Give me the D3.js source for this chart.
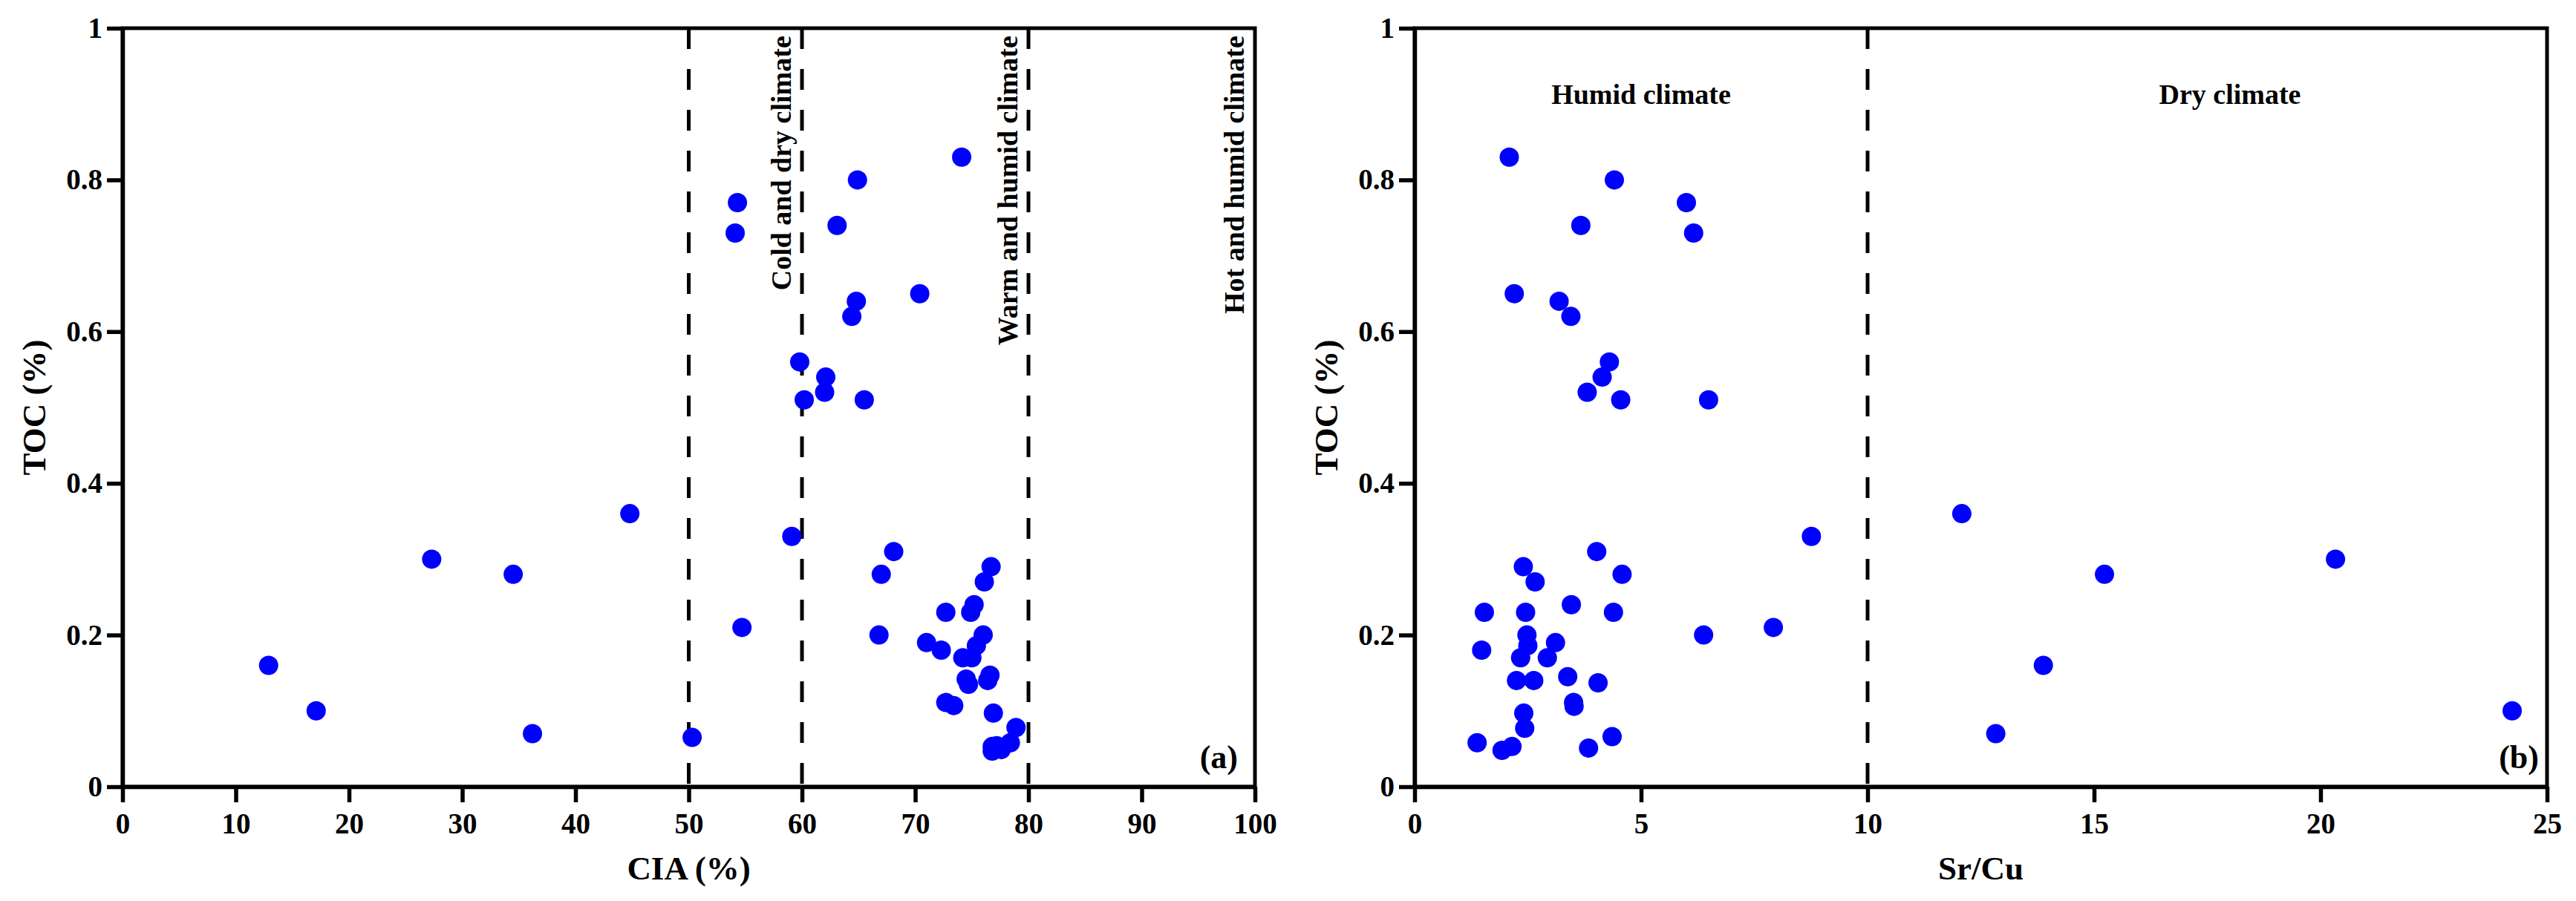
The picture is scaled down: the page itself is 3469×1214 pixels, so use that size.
<!DOCTYPE html>
<html>
<head>
<meta charset="utf-8">
<script src="https://cdn.jsdelivr.net/npm/d3@7"></script>
<style>
    body { margin: 0; background: #fff; }
    svg { display: block; }
    text { font-family: "Liberation Serif", "Times New Roman", serif; font-weight: bold; fill: #000; }
</style>
</head>
<body>
<div id="chart"></div>
<script>
// Panel (a): CIA vs TOC
const ciaX = [12.9, 17.1, 27.3, 34.5, 36.2, 44.8,
    74.1, 64.9, 54.3, 63.1, 54.1, 70.4, 64.8, 64.4, 59.8, 62.1, 62.0, 60.2, 65.5,
    59.1, 54.7, 50.3,
    68.1, 67.0, 76.7, 76.1, 72.7, 75.2, 74.9, 66.8, 76.0, 75.4, 71.0, 72.3, 74.2, 75.0,
    74.5, 74.7, 76.6, 76.4, 72.7, 73.4, 76.9, 78.9, 78.4, 77.2, 76.8, 76.8, 77.6];
const ciaToc = [0.16, 0.10, 0.30, 0.28, 0.07, 0.36,
    0.83, 0.80, 0.77, 0.74, 0.73, 0.65, 0.64, 0.62, 0.56, 0.54, 0.52, 0.51, 0.51,
    0.33, 0.21, 0.065,
    0.31, 0.28, 0.29, 0.27, 0.23, 0.24, 0.23, 0.20, 0.20, 0.186, 0.19, 0.18, 0.17, 0.17,
    0.142, 0.135, 0.147, 0.14, 0.111, 0.107, 0.097, 0.078, 0.058, 0.054, 0.053, 0.047, 0.049];

// Panel (b): Sr/Cu vs TOC
const srcuX = [2.09, 4.41, 6.0, 3.67, 6.16, 2.2, 3.19, 3.45, 4.30, 4.14, 3.81, 4.55, 6.49,
    8.76, 7.92, 6.38,
    12.08, 20.33, 15.23, 13.88, 12.83, 24.23,
    4.02, 2.40, 2.66, 4.58, 1.54, 2.45, 3.46, 4.39, 2.48, 2.50, 2.34, 3.11, 2.93, 1.48,
    2.25, 2.63, 3.38, 4.05, 3.51, 3.52, 2.41, 2.43, 1.38, 2.15, 1.93, 4.36, 3.84];
const srcuToc = [0.83, 0.80, 0.77, 0.74, 0.73, 0.65, 0.64, 0.62, 0.56, 0.54, 0.52, 0.51, 0.51,
    0.33, 0.21, 0.20,
    0.36, 0.30, 0.28, 0.16, 0.07, 0.10,
    0.31, 0.29, 0.27, 0.28, 0.23, 0.23, 0.24, 0.23, 0.20, 0.186, 0.17, 0.19, 0.17, 0.18,
    0.14, 0.14, 0.145, 0.137, 0.111, 0.106, 0.097, 0.077, 0.058, 0.053, 0.048, 0.066, 0.051];

// Ticks and labels
const ciaTicks = [0, 10, 20, 30, 40, 50, 60, 70, 80, 90, 100];
const srcuTicks = [0, 5, 10, 15, 20, 25];
const tocTicks = [0, 0.2, 0.4, 0.6, 0.8, 1];
const tocTickLabels = ["0", "0.2", "0.4", "0.6", "0.8", "1"];

// Climate boundaries and zone names
const ciaBounds = [50, 60, 80];
const ciaZones = ["Cold and dry climate", "Warm and humid climate", "Hot and humid climate"];
const ciaZoneAt = [59, 79, 99];
const srcuBounds = [10];
const srcuZones = ["Humid climate", "Dry climate"];
const srcuZoneAt = [5, 18];

const width = 3469, height = 1214;
const plotTop = 38, plotBottom = 1060, plotW = 1525;

const svg = d3.select("#chart")
    .append("svg")
    .attr("width", width)
    .attr("height", height);

function drawPanel(o) {
    const g = svg.append("g");
    const x = d3.scaleLinear().domain(o.xDomain).range([o.left, o.left + plotW]);
    const y = d3.scaleLinear().domain([0, 1]).range([plotBottom, plotTop]);

    // frame
    g.append("rect")
        .attr("x", o.left).attr("y", plotTop)
        .attr("width", plotW).attr("height", plotBottom - plotTop)
        .attr("fill", "none").attr("stroke", "#000").attr("stroke-width", 5);

    // dashed boundaries
    g.selectAll(".bound")
        .data(o.bounds)
        .enter().append("line")
        .attr("x1", d => x(d)).attr("x2", d => x(d))
        .attr("y1", y(1)).attr("y2", y(0))
        .attr("stroke", "#000").attr("stroke-width", 5)
        .attr("stroke-dasharray", "28,27");

    // x axis
    const xa = g.append("g")
        .attr("transform", "translate(0," + y(0) + ")")
        .call(d3.axisBottom(x).tickValues(o.xTicks).tickSize(21).tickSizeOuter(0).tickPadding(14));

    // y axis
    const ya = g.append("g")
        .attr("transform", "translate(" + o.left + ",0)")
        .call(d3.axisLeft(y).tickValues(tocTicks).tickFormat((d, i) => tocTickLabels[i])
            .tickSize(21).tickSizeOuter(0).tickPadding(6));

    [xa, ya].forEach(a => {
        a.select(".domain").attr("stroke", "#000").attr("stroke-width", 5.5);
        a.selectAll(".tick line").attr("stroke", "#000").attr("stroke-width", 5.5);
        a.selectAll(".tick text")
            .attr("font-size", 39)
            .attr("font-family", "Liberation Serif, Times New Roman, serif")
            .attr("font-weight", "bold")
            .attr("fill", "#000");
    });

    // points
    g.selectAll(".pt")
        .data(o.xs.map((v, i) => [v, o.ys[i]]))
        .enter().append("circle")
        .attr("cx", d => x(d[0]))
        .attr("cy", d => y(d[1]))
        .attr("r", 13)
        .attr("fill", "#0000ff");

    // axis titles
    g.append("text")
        .attr("x", x((o.xDomain[0] + o.xDomain[1]) / 2))
        .attr("y", 1185)
        .attr("text-anchor", "middle")
        .attr("font-size", 45)
        .text(o.xTitle);

    g.append("text")
        .attr("transform", "translate(" + (o.left - 104) + "," + ((plotTop + plotBottom) / 2) + ") rotate(-90)")
        .attr("text-anchor", "middle")
        .attr("font-size", 45)
        .text("TOC (%)");

    // panel letter
    g.append("text")
        .attr("x", o.left + plotW - o.letterPad)
        .attr("y", 1035)
        .attr("text-anchor", "end")
        .attr("font-size", 44)
        .text(o.letter);

    return { g: g, x: x, y: y };
}

const a = drawPanel({
    left: 165, xDomain: [0, 100], xTicks: ciaTicks, bounds: ciaBounds,
    xs: ciaX, ys: ciaToc, xTitle: "CIA (%)", letter: "(a)", letterPad: 23
});

// vertical zone labels
a.g.selectAll(".zone")
    .data(ciaZones)
    .enter().append("text")
    .attr("transform", (d, i) => "translate(" + a.x(ciaZoneAt[i]) + "," + a.y(0.99) + ") rotate(-90)")
    .attr("text-anchor", "end")
    .attr("font-size", 38)
    .text(d => d);

const b = drawPanel({
    left: 1905, xDomain: [0, 25], xTicks: srcuTicks, bounds: srcuBounds,
    xs: srcuX, ys: srcuToc, xTitle: "Sr/Cu", letter: "(b)", letterPad: 11
});

b.g.selectAll(".zone")
    .data(srcuZones)
    .enter().append("text")
    .attr("x", (d, i) => b.x(srcuZoneAt[i]))
    .attr("y", b.y(0.9))
    .attr("text-anchor", "middle")
    .attr("font-size", 38)
    .text(d => d);
</script>
</body>
</html>
